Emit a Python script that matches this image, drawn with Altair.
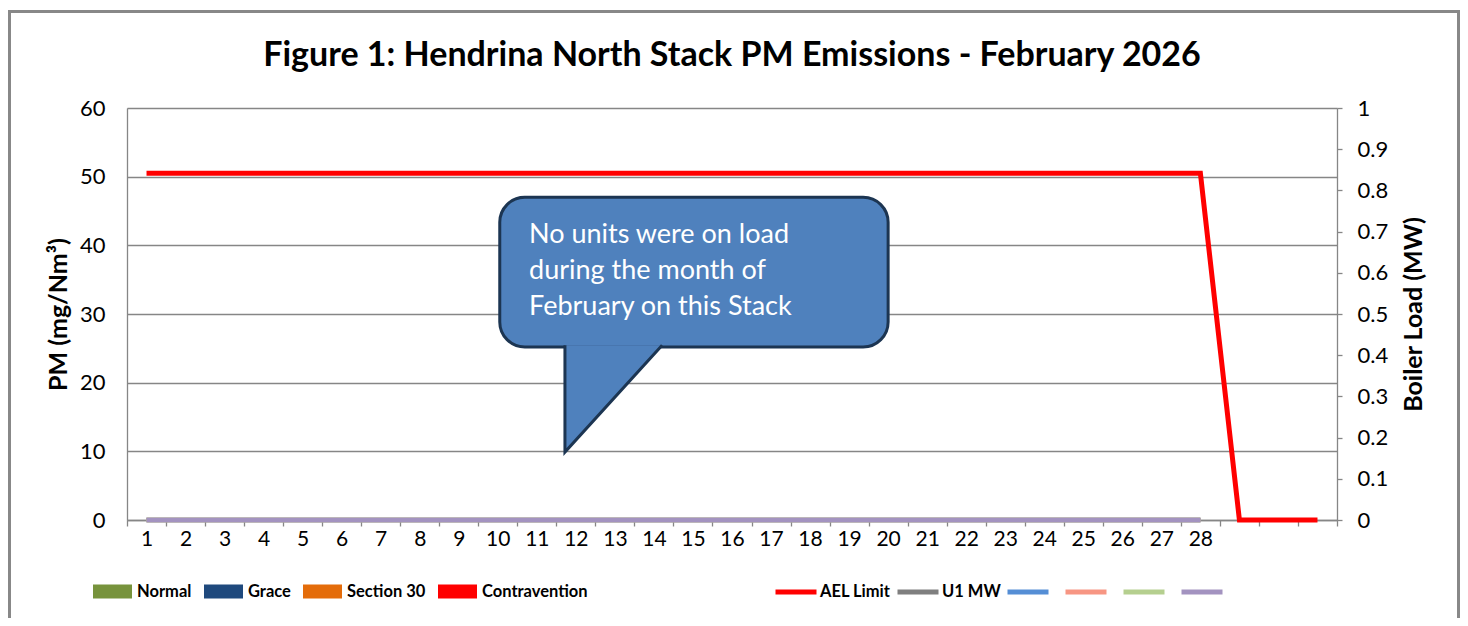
import altair as alt
import pandas as pd

FONT = "Lato"
GRID = "#868686"

# ---------------- data ----------------
days = list(range(1, 32))
ael_limit = [50.5, 50.5, 50.5, 50.5, 50.5, 50.5, 50.5, 50.5, 50.5, 50.5,
             50.5, 50.5, 50.5, 50.5, 50.5, 50.5, 50.5, 50.5, 50.5, 50.5,
             50.5, 50.5, 50.5, 50.5, 50.5, 50.5, 50.5, 50.5, 0, 0, 0]
load_days = list(range(1, 29))
u1_mw = [0, 0, 0, 0, 0, 0, 0, 0, 0, 0, 0, 0, 0, 0, 0, 0, 0, 0, 0, 0, 0, 0, 0, 0, 0, 0, 0, 0]
unit_series = ["U1 MW", "_3", "_4", "_5", "_6"]

bar_series = ["Normal", "Grace", "Section 30", "Contravention"]
bar_colors = ["#77933C", "#1F497D", "#E46C0A", "#FF0000"]
bar_pm = [0, 0, 0, 0]

line_series = ["AEL Limit", "U1 MW", "_3", "_4", "_5", "_6"]
line_colors = ["#FF0000", "#7F7F7F", "#558ED5", "#F79683", "#B5CF8F", "#A393C0"]

x_ticks = [0.5 + i for i in range(32)]
y_left_ticks = [0, 10, 20, 30, 40, 50, 60]
y_right_ticks = [round(i / 10, 1) for i in range(11)]

callout_text = "No units were on load\nduring the month of\nFebruary on this Stack"
callout_box = {"x": 10.05, "x2": 20.0, "y": 47.0, "y2": 25.2}
callout_pointer = [(11.72, 25.45, 0), (11.72, 9.9, 1), (14.21, 25.45, 2)]

# ---------------- tables ----------------
bars_df = pd.DataFrame({"day": [1] * 4, "pm": bar_pm, "series": bar_series})
ael_df = pd.DataFrame({"day": days, "pm": ael_limit, "series": "AEL Limit"})
units_df = pd.concat(
    [pd.DataFrame({"day": load_days, "load": u1_mw, "series": s}) for s in unit_series],
    ignore_index=True,
)
box_df = pd.DataFrame([callout_box])
ptr_df = pd.DataFrame(callout_pointer, columns=["x", "y", "o"])
txt_df = pd.DataFrame({"x": [10.8], "y": [40.3], "t": [callout_text]})

# ---------------- encodings ----------------
x_scale = alt.Scale(domain=[0.5, 31.5], nice=False, zero=False, padding=0)
x_axis = alt.Axis(
    values=x_ticks,
    labelExpr="datum.value < 28 ? format(datum.value + 0.5, 'd') : ''",
    labelOffset=19.5, labelOverlap=False, labelFlush=False, labelBound=False,
    grid=False, domainColor=GRID, domainWidth=1.3, tickColor=GRID, tickWidth=1.3,
    tickSize=6, labelFont=FONT, labelFontSize=21, labelColor="black", labelPadding=2,
    title=None,
)

y_left_scale = alt.Scale(domain=[0, 60], nice=False, zero=True, padding=0)
y_left_axis = alt.Axis(
    values=y_left_ticks, grid=True, gridColor=GRID, gridWidth=1.3,
    domainColor=GRID, domainWidth=1.3, ticks=False, labelPadding=22,
    labelFont=FONT, labelFontSize=22, labelColor="black",
    title="PM (mg/Nm³)", titleFont=FONT, titleFontSize=25, titleFontWeight="bold",
    titleColor="black", titlePadding=8,
)

y_right_axis = alt.Axis(
    orient="right", values=y_right_ticks, grid=False,
    labelExpr="datum.value == 0 ? '0' : (datum.value == 1 ? '1' : format(datum.value, '.1f'))",
    domainColor=GRID, domainWidth=1.3, tickColor=GRID, tickWidth=1.3, tickSize=5,
    labelPadding=15, labelFont=FONT, labelFontSize=22, labelColor="black",
    title="Boiler Load (MW)", titleFont=FONT, titleFontSize=25, titleFontWeight="bold",
    titleColor="black", titlePadding=14, titleAngle=270, titleBaseline="top",
)


def X(field):
    return alt.X(field, scale=x_scale, axis=x_axis)


def YL(field):
    return alt.Y(field, scale=y_left_scale, axis=y_left_axis)


stroke_enc = alt.Stroke(
    "series:N",
    scale=alt.Scale(domain=line_series, range=line_colors),
    legend=alt.Legend(
        orient="none", legendX=646, legendY=461, direction="horizontal", title=None,
        symbolType="stroke", symbolSize=1681, symbolStrokeWidth=5,
        labelExpr="indexof(datum.label, '_') == 0 ? '' : datum.label",
        labelFont=FONT, labelFontSize=16.5, labelFontWeight="bold", labelColor="black",
        labelOffset=1, columnPadding=-4,
    ),
)

# ---------------- layers ----------------
frame = alt.Chart(box_df).mark_rect(
    fillOpacity=0, stroke="#888888", strokeWidth=3
).encode(
    x=alt.value(-117.5), x2=alt.value(1331.5),
    y=alt.value(-96.5), y2=alt.value(600),
)

bars = alt.Chart(bars_df).mark_bar(strokeWidth=0).encode(
    x=X("day:Q"), y=YL("pm:Q"),
    fill=alt.Fill(
        "series:N",
        scale=alt.Scale(domain=bar_series, range=bar_colors),
        legend=alt.Legend(
            orient="none", legendX=-34, legendY=464, direction="horizontal", title=None,
            symbolType="M-1,-0.36H1V0.36H-1Z", symbolSize=1521, symbolStrokeWidth=0,
            symbolOpacity=1,
            labelFont=FONT, labelFontSize=16.5, labelFontWeight="bold", labelColor="black",
            labelOffset=5, columnPadding=12,
        ),
    ),
)

ael = alt.Chart(ael_df).mark_line(strokeWidth=5).encode(
    x=X("day:Q"), y=YL("pm:Q"), stroke=stroke_enc
)

callout_rect = alt.Chart(box_df).mark_rect(
    fill="#4F81BD", stroke="#1C3552", strokeWidth=3, cornerRadius=25
).encode(x=X("x:Q"), x2="x2:Q", y=YL("y:Q"), y2="y2:Q")

callout_ptr = alt.Chart(ptr_df).mark_line(
    fill="#4F81BD", stroke="#1C3552", strokeWidth=3, strokeJoin="miter"
).encode(x=X("x:Q"), y=YL("y:Q"), order="o:O")

callout_txt = alt.Chart(txt_df).mark_text(
    align="left", baseline="alphabetic", font=FONT, fontSize=27, color="white",
    lineBreak="\n", lineHeight=36,
).encode(x=X("x:Q"), y=YL("y:Q"), text="t:N")

left = alt.layer(frame, bars, ael, callout_rect, callout_ptr, callout_txt)

units = alt.Chart(units_df).mark_line(strokeWidth=4.5).encode(
    x=X("day:Q"),
    y=alt.Y("load:Q", scale=alt.Scale(domain=[0, 1], nice=False, padding=0), axis=y_right_axis),
    stroke=stroke_enc,
)

chart = (
    alt.layer(left, units)
    .resolve_scale(y="independent")
    .properties(
        width=1210, height=412,
        autosize=alt.AutoSizeParams(type="none"),
        padding={"left": 119, "top": 100, "right": 123, "bottom": 98},
        title=alt.TitleParams(
            "Figure 1: Hendrina North Stack PM Emissions - February 2026",
            font=FONT, fontSize=34, fontWeight="bold", color="black",
            anchor="middle", frame="group", offset=0, baseline="alphabetic", dy=90,
        ),
    )
    .configure_view(stroke=None)
    .configure(background="white")
)

chart.save("out.html", embed_options={"renderer": "svg", "actions": False})
